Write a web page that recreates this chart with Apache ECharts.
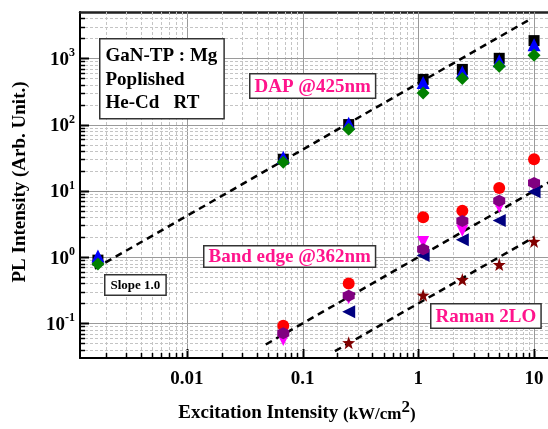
<!DOCTYPE html>
<html>
<head>
<meta charset="utf-8">
<script src="https://cdn.jsdelivr.net/npm/echarts@6/dist/echarts.min.js"></script>
<style>
  html, body { margin: 0; padding: 0; background: #fff; }
  #chart { width: 548px; height: 429px; }
</style>
</head>
<body>
<div id="chart"></div>
<script>
var FONT = '"Liberation Serif", "Times New Roman", serif';
var PINK = '#ff148c';

// excitation intensity (kW/cm2)
var dapX = [0.0017, 0.068, 0.25, 1.1, 2.4, 5.0, 10];
var dapBlack = [0.9, 30, 100, 480, 680, 1000, 1850];
var dapBlue = [1.04, 32, 105, 430, 620, 920, 1600];
var dapGreen = [0.79, 27, 85, 300, 495, 760, 1110];

var bandX = [0.068, 0.25, 1.1, 2.4, 5.0, 10];
var bandRed = [0.092, 0.40, 4.0, 5.0, 11, 30];
var bandMagenta = [0.056, 0.24, 1.69, 2.5, 5.7, 12];
var bandNavy = [null, 0.15, 1.06, 1.83, 3.56, 9.7];
var bandPurple = [0.071, 0.26, 1.31, 3.5, 7.1, 13.1];

var ramanX = [0.25, 1.1, 2.4, 5.0, 10];
var ramanStar = [0.051, 0.266, 0.458, 0.77, 1.72];

// slope 1.0 guide lines (end points)
var dapFitX = [0.0016, 8.9];
var dapFitY = [0.67, 3740];
var bandFitX = [0.048, 14];
var bandFitY = [0.048, 14];
var ramanFitX = [0.19, 10];
var ramanFitY = [0.038, 2.0];

var xMin = 0.00119, xMax = 13.2;
var yMin = 0.03, yMax = 5000;
var xDecades = [0.001, 0.01, 0.1, 1, 10];
var yDecades = [0.01, 0.1, 1, 10, 100, 1000];
var xTickLabels = ['0.01', '0.1', '1', '10'];
var yTickExps = ['-1', '0', '1', '2', '3'];

function pairs(xs, ys) {
  return xs.map(function (x, i) { return ys[i] == null ? [x, null] : [x, ys[i]]; });
}

// grid lines: [x, y, dir(0 vertical / 1 horizontal), major(1/0)]
var gridData = [];
xDecades.forEach(function (d) {
  for (var m = 1; m <= 9; m++) {
    var v = d * m;
    if (v > xMin && v < xMax) gridData.push([v, 1, 0, m === 1 ? 1 : 0]);
  }
});
yDecades.forEach(function (d) {
  for (var m = 1; m <= 9; m++) {
    var v = d * m;
    if (v > yMin * 1.001 && v < yMax) gridData.push([1, v, 1, m === 1 ? 1 : 0]);
  }
});

function isDecade(v) {
  var l = Math.log10(v);
  return Math.abs(l - Math.round(l)) < 1e-6;
}

var HEX = 'path://M0,-10 L8.66,-5 L8.66,5 L0,10 L-8.66,5 L-8.66,-5 Z';
var STAR = 'path://M0,-10 L2.35,-3.24 L9.51,-3.09 L3.8,1.24 L5.88,8.09 L0,4 L-5.88,8.09 L-3.8,1.24 L-9.51,-3.09 L-2.35,-3.24 Z';

function scatter(name, xs, ys, symbol, size, color, rotate) {
  return {
    name: name, type: 'scatter', data: pairs(xs, ys),
    symbol: symbol, symbolSize: size, symbolRotate: rotate || 0,
    itemStyle: { color: color, opacity: 1 }, z: 5, silent: true
  };
}

function fitLine(name, xs, ys) {
  return {
    name: name, type: 'line', data: pairs(xs, ys), symbol: 'none', z: 4,
    lineStyle: { color: '#000', width: 2.5, type: [7, 5] }, silent: true
  };
}

function box(x, y, text, size, color, pad) {
  return {
    type: 'text', left: x, top: y, z: 20,
    style: {
      text: text, font: 'bold ' + size + 'px ' + FONT, fill: color,
      backgroundColor: '#fff', borderColor: '#333', borderWidth: 1.5,
      padding: pad
    }
  };
}

var chart = echarts.init(document.getElementById('chart'));
chart.setOption({
  animation: false,
  backgroundColor: '#fff',
  grid: { left: 80, right: 0, top: 12, bottom: 70, containLabel: false },
  xAxis: [{
    type: 'log', logBase: 10, min: xMin, max: xMax,
    axisLine: { show: true, lineStyle: { color: '#000', width: 2 } },
    axisTick: { show: false }, splitLine: { show: false },
    axisLabel: {
      margin: 12, color: '#000', fontFamily: FONT, fontWeight: 'bold', fontSize: 19,
      showMinLabel: false, showMaxLabel: false,
      formatter: function (v) {
        if (!isDecade(v)) return '';
        var i = Math.round(Math.log10(v)) + 2;
        return xTickLabels[i] || '';
      }
    },
    name: '{a|Excitation Intensity }{u|(kW/cm}{s|2}{u|)}',
    nameLocation: 'middle', nameGap: 41,
    nameTextStyle: {
      padding: [0, 34, 0, 0],
      rich: {
        a: { fontFamily: FONT, fontWeight: 'bold', fontSize: 19, color: '#000', lineHeight: 24, verticalAlign: 'bottom' },
        u: { fontFamily: FONT, fontWeight: 'bold', fontSize: 17, color: '#000', lineHeight: 24, verticalAlign: 'bottom' },
        s: { fontFamily: FONT, fontWeight: 'bold', fontSize: 17, color: '#000', lineHeight: 17, verticalAlign: 'top', padding: [0, 0, 8, 0] }
      }
    }
  }, {
    type: 'log', logBase: 10, min: xMin, max: xMax, position: 'top',
    axisLine: { show: true, lineStyle: { color: '#222', width: 2.5 } },
    axisTick: { show: false }, axisLabel: { show: false }, splitLine: { show: false }
  }],
  yAxis: {
    type: 'log', logBase: 10, min: yMin, max: yMax,
    axisLine: { show: true, lineStyle: { color: '#000', width: 2 } },
    axisTick: { show: false }, splitLine: { show: false },
    axisLabel: {
      margin: 5, showMinLabel: false, showMaxLabel: false,
      formatter: function (v) {
        if (!isDecade(v)) return '';
        var i = Math.round(Math.log10(v)) + 1;
        return yTickExps[i] != null ? '{b|10}{s|' + yTickExps[i] + '}' : '';
      },
      rich: {
        b: { fontFamily: FONT, fontWeight: 'bold', fontSize: 19, color: '#000', lineHeight: 22, verticalAlign: 'bottom' },
        s: { fontFamily: FONT, fontWeight: 'bold', fontSize: 12, color: '#000', lineHeight: 12, verticalAlign: 'top', padding: [0, 0, 6, 0] }
      }
    },
    name: 'PL Intensity (Arb. Unit.)',
    nameLocation: 'middle', nameGap: 50,
    nameTextStyle: { fontFamily: FONT, fontWeight: 'bold', fontSize: 19, color: '#000', padding: [0, 0, 0, 6] }
  },
  series: [
    {
      name: 'grid', type: 'custom', data: gridData, silent: true, z: 1, clip: false,
      encode: { x: 0, y: 1 },
      renderItem: function (params, api) {
        var cs = params.coordSys;
        var p = api.coord([api.value(0), api.value(1)]);
        var major = api.value(3) === 1;
        var gl = major
          ? { stroke: '#9a9a9a', lineWidth: 1 }
          : { stroke: '#c4c4c4', lineWidth: 1, lineDash: [3, 2] };
        var tk = { stroke: '#000', lineWidth: major ? 2 : 1.5 };
        var len = major ? 9 : 5;
        if (api.value(2) === 0) {
          var x = Math.round(p[0]) + 0.5, yb = cs.y + cs.height;
          return { type: 'group', children: [
            { type: 'line', shape: { x1: x, y1: cs.y, x2: x, y2: yb }, style: gl },
            { type: 'line', shape: { x1: x, y1: yb, x2: x, y2: yb - len }, style: tk }
          ] };
        }
        var y = Math.round(p[1]) + 0.5, xl = cs.x;
        return { type: 'group', children: [
          { type: 'line', shape: { x1: xl, y1: y, x2: cs.x + cs.width, y2: y }, style: gl },
          { type: 'line', shape: { x1: xl, y1: y, x2: xl + len, y2: y }, style: tk }
        ] };
      }
    },
    fitLine('DAP fit', dapFitX, dapFitY),
    fitLine('Band edge fit', bandFitX, bandFitY),
    fitLine('Raman fit', ramanFitX, ramanFitY),
    scatter('DAP 1', dapX, dapBlack, 'rect', 11, '#000'),
    scatter('DAP 2', dapX, dapBlue, 'triangle', 13, '#0000ff'),
    scatter('DAP 3', dapX, dapGreen, 'diamond', 13, '#008000'),
    scatter('Band 1', bandX, bandRed, 'circle', 12, '#ff0000'),
    scatter('Band 2', bandX, bandMagenta, 'triangle', 12, '#ff00ff', 180),
    scatter('Band 3', bandX, bandNavy, 'triangle', 13, '#000080', 90),
    scatter('Band 4', bandX, bandPurple, HEX, 12, '#800080'),
    scatter('Raman', ramanX, ramanStar, STAR, 13, '#800000')
  ],
  graphic: [
    {
      type: 'text', left: 99, top: 38, z: 20,
      style: {
        text: 'GaN-TP : Mg\nPoplished\nHe-Cd   RT',
        font: 'bold 19px ' + FONT, fill: '#000', lineHeight: 23.5,
        backgroundColor: '#fff', borderColor: '#333', borderWidth: 1.5,
        padding: [5, 6, 3, 5]
      }
    },
    box(249, 73, 'DAP @425nm', 19, PINK, [3, 4, 1, 4]),
    box(203, 245, 'Band edge @362nm', 19, PINK, [1, 4, 0, 4]),
    box(430, 303, 'Raman 2LO', 19, PINK, [3, 4, 1, 4]),
    box(104, 274, 'Slope 1.0', 13, '#000', [4, 5, 2, 5])
  ]
});
</script>
</body>
</html>
